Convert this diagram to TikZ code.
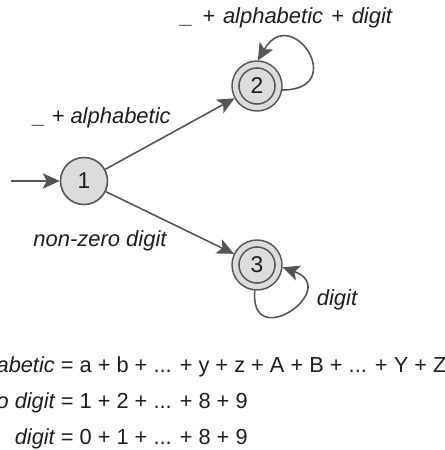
\documentclass[tikz,border=0pt]{standalone}
\usepackage{fontspec}
\setmainfont{Liberation Sans}
\usetikzlibrary{arrows.meta, positioning}
\usepackage{xcolor}
\definecolor{StateFill}{HTML}{DCDCDC}
\definecolor{StateLine}{HTML}{555555}
\definecolor{TextBlack}{HTML}{1E1E1E}
\tikzset{
    % State styles - plain and accepting
    statenode/.style={
        circle,
        draw=StateLine,
        fill=StateFill,
        line width=0.9pt,
        minimum size=0.94cm,
        inner sep=0pt,
        text=TextBlack,
        font=\fontsize{13}{15}\selectfont
    },
    acceptnode/.style={
        statenode,
        minimum size=0.86cm,
        double=StateFill,
        double distance=3pt,
        outer sep=2.3pt
    },
    % Arrow style
    arrow/.style={
        -{Stealth[length=3.4mm, width=3.1mm, inset=0.8mm]},
        line width=0.9pt,
        draw=StateLine
    },
    % Text styles
    edgelabel/.style={
        text=TextBlack,
        inner sep=0pt,
        font=\fontsize{12.5}{15}\selectfont\itshape
    },
    deftext/.style={
        text=TextBlack,
        inner sep=0pt,
        font=\fontsize{12.4}{15}\selectfont
    }
}

\begin{document}
\begin{tikzpicture}
    \useasboundingbox (0,0) rectangle (8.88,9);
    \clip (0,0) rectangle (8.88,9);

    \node[statenode] (s1) at (1.68,5.38) {1};
    \node[acceptnode] (s2) at (5.14,7.28) {2};
    \node[acceptnode] (s3) at (5.14,3.70) {3};
    \coordinate (start) at (0.22,5.38);

    \draw[arrow] (start) -- (s1);
    \draw[arrow] (s1) -- (s2);
    \draw[arrow] (s1) -- (s3);
    \draw[arrow] (s2.-9) to[out=0,in=60,looseness=4.5] (s2.88);
    \draw[arrow] (s3.-95) to[out=-95,in=-20,looseness=4.5] (s3.-5);

    \node[edgelabel] (lab12) at (2.04,6.64) {\_ + alphabetic};
    \node[edgelabel] (lab13) at (2.00,4.18) {non-zero digit};
    \node[edgelabel] (lab22) at (5.73,8.64)
        {\_\hspace{0.42em}+\hspace{0.36em}alphabetic\hspace{0.36em}+\hspace{0.36em}digit};
    \node[edgelabel] (lab33) at (6.74,3.00) {digit};

    % definitions, aligned on the equals sign
    \node[deftext, anchor=base west] (def1) at (1.21,1.55)
        {\llap{\itshape alphabetic\ }= a + b + ... + y + z + A + B + ... + Y + Z};
    \node[deftext, anchor=base west] (def2) at (1.21,0.83)
        {\llap{\itshape non-zero digit\ }= 1 + 2 + ... + 8 + 9};
    \node[deftext, anchor=base west] (def3) at (1.21,0.11)
        {\llap{\itshape digit\ }= 0 + 1 + ... + 8 + 9};
\end{tikzpicture}
\end{document}
